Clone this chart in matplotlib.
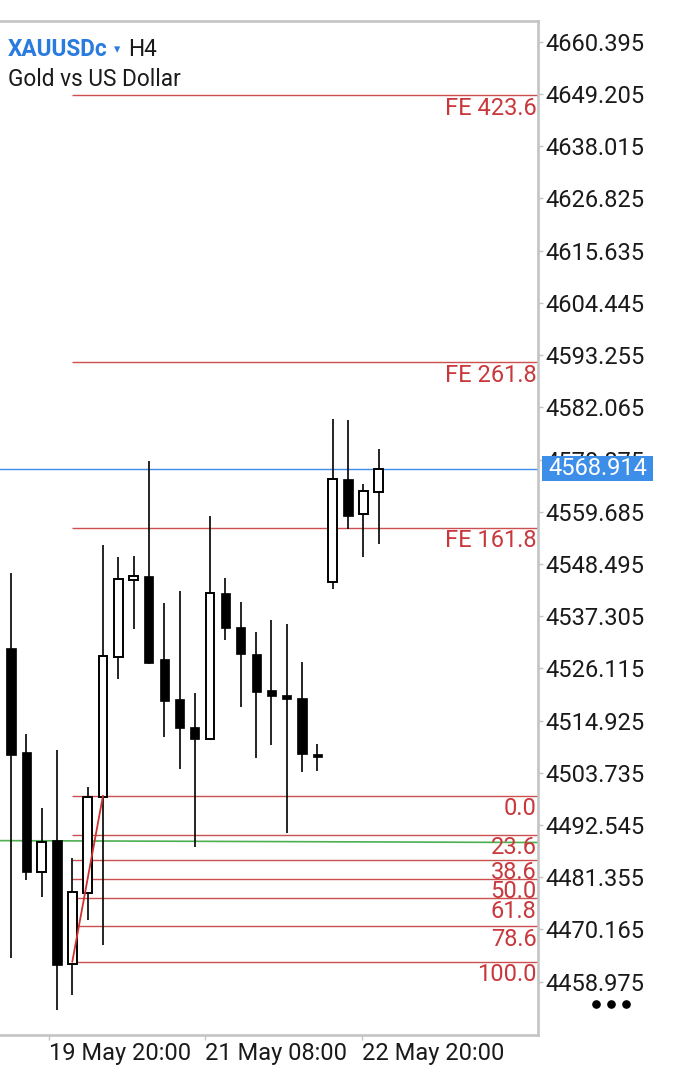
import matplotlib
matplotlib.use('Agg')
import matplotlib.pyplot as plt
from matplotlib.patches import Rectangle
from matplotlib.lines import Line2D
import matplotlib.transforms as mtransforms

plt.rcParams['font.family'] = ['Roboto', 'DejaVu Sans']

# H4 candles, XAUUSDc
opens = [4530.39, 4508.13, 4482.45, 4489.30, 4462.76, 4477.96, 4498.50, 4528.46, 4545.15,
         4546.01, 4528.03, 4519.47, 4513.48, 4510.91, 4542.37, 4534.88, 4529.10, 4521.40,
         4520.33, 4519.69, 4507.70, 4544.72, 4566.77, 4559.28, 4563.99]
highs = [4546.65, 4511.98, 4496.15, 4508.56, 4485.45, 4500.64, 4552.64, 4550.07, 4550.29,
         4570.62, 4540.02, 4542.59, 4520.76, 4558.85, 4545.58, 4540.44, 4533.81, 4536.38,
         4535.52, 4527.39, 4509.84, 4579.61, 4579.40, 4565.70, 4573.19]
lows = [4464.05, 4480.74, 4477.10, 4452.92, 4456.13, 4472.18, 4466.83, 4523.75, 4534.45,
        4526.96, 4511.34, 4504.49, 4487.80, 4510.91, 4532.10, 4517.76, 4506.85, 4509.63,
        4490.80, 4503.85, 4504.07, 4543.23, 4556.07, 4550.07, 4552.86]
closes = [4507.49, 4482.45, 4488.87, 4462.55, 4478.17, 4498.50, 4528.67, 4545.36, 4546.01,
          4527.18, 4519.05, 4513.27, 4510.91, 4542.37, 4534.67, 4529.10, 4520.97, 4520.11,
          4519.47, 4507.70, 4507.49, 4566.77, 4558.85, 4564.20, 4568.91]

# fibo retracement (anchored on candles 4 -> 6)
fib_low = 4463.26
fib_high = 4498.78
fib_levels = [0.0, 23.6, 38.6, 50.0, 61.8, 78.6, 100.0]
fib_start, fib_end = 4, 6

# fibo expansion lines
fe_labels = ['FE 161.8', 'FE 261.8', 'FE 423.6']
fe_prices = [4556.22, 4591.68, 4648.94]

bid_price = 4568.914
green_line = [4489.2, 4488.8]

ytick_labels = ['4458.975', '4470.165', '4481.355', '4492.545', '4503.735', '4514.925',
                '4526.115', '4537.305', '4548.495', '4559.685', '4570.875', '4582.065',
                '4593.255', '4604.445', '4615.635', '4626.825', '4638.015', '4649.205',
                '4660.395']
xtick_labels = ['19 May 20:00', '21 May 08:00', '22 May 20:00']
xtick_pos = [2.48, 12.66, 22.91]

RED = '#c8383c'
RED_LINE = '#cc5050'
GRAY = '#c4c4c4'
FS = 17
W, H = 673, 1083

fig = plt.figure(figsize=(W / 100, H / 100), dpi=100)
ax = fig.add_axes([0, 48 / H, 538.3 / W, (1035 - 20.5) / H])
ax.set_xlim(-0.72, 34.42)
ax.set_ylim(4447.55, 4664.95)

# candles
n = len(opens)
xs = list(range(n))
ax.vlines(xs, lows, highs, color='black', lw=1.2, zorder=3)
for i in range(n):
    o, c = opens[i], closes[i]
    bottom = min(o, c)
    height = max(abs(c - o), 0.7)
    if c > o:
        ax.bar(i, height, bottom=bottom, width=0.56, facecolor='white',
               edgecolor='black', linewidth=1.4, zorder=4)
    else:
        ax.bar(i, height, bottom=bottom - (0.35 if abs(c - o) < 0.7 else 0), width=0.6,
               facecolor='black', edgecolor='black', linewidth=0.5, zorder=4)

# fibo retracement levels
ax_right = ax.get_xlim()[1]
lbl_tr = mtransforms.blended_transform_factory(ax.transAxes, ax.transData)
for lv in fib_levels:
    p = fib_high - (fib_high - fib_low) * lv / 100.0
    ax.hlines(p, fib_start, ax_right, color=RED_LINE, lw=1.0, zorder=2)
    ax.text(0.997, p - 0.3, f'{lv:.1f}', transform=lbl_tr, ha='right', va='top',
            color=RED, fontsize=FS, zorder=6)
ax.plot([fib_start, fib_end], [fib_low, fib_high], color='#d03030', lw=1.3, zorder=5)

# fibo expansion levels
for lbl, p in zip(fe_labels, fe_prices):
    ax.hlines(p, fib_start, ax_right, color=RED_LINE, lw=1.0, zorder=2)
    ax.text(0.997, p - 0.3, lbl, transform=lbl_tr, ha='right', va='top',
            color=RED, fontsize=FS, zorder=6)

# green trend line and bid line
ax.plot(ax.get_xlim(), green_line, color='#4caf50', lw=1.2, zorder=2)
ax.axhline(bid_price, color='#3d8ee8', lw=1.0, zorder=2)

# bid label box on the price scale (hides part of the 4570.875 label, as in the app)
ax.add_patch(Rectangle((1.0069, bid_price - 2.68), 0.2062, 5.36, transform=lbl_tr,
                       facecolor='#3d8ee8', edgecolor='none', clip_on=False, zorder=7))
ax.text(1.019, bid_price, f'{bid_price:.3f}', transform=lbl_tr, ha='left', va='center',
        color='white', fontsize=FS, clip_on=False, zorder=8)

# axes styling
ax.spines['left'].set_visible(False)
for side in ['top', 'right', 'bottom']:
    ax.spines[side].set_color(GRAY)
    ax.spines[side].set_linewidth(1.9)

ax.yaxis.tick_right()
ax.set_yticks([float(t) for t in ytick_labels])
ax.set_yticklabels(ytick_labels)
ax.tick_params(axis='y', length=3.6, width=1, color=GRAY, pad=1.2, labelsize=FS,
               labelcolor='#1a1a1a')
ax.set_xticks(xtick_pos)
ax.set_xticklabels(xtick_labels)
ax.tick_params(axis='x', length=3.6, width=1, color=GRAY, pad=1.2, labelsize=FS,
               labelcolor='#1a1a1a')
for t in ax.get_xticklabels():
    t.set_ha('left')

# header
fig.text(8 / W, 1 - 56 / H, 'XAUUSDc', color='#2a7be0', fontsize=16.3, fontweight='bold',
         va='baseline', ha='left')
fig.text(114 / W, 1 - 53 / H, '▾', color='#2a7be0', fontsize=9, va='baseline', ha='left')
fig.text(128 / W, 1 - 56 / H, 'H4', color='#1a1a1a', fontsize=16.3, va='baseline', ha='left')
fig.text(8 / W, 1 - 85.5 / H, 'Gold vs US Dollar', color='#1a1a1a', fontsize=16.3,
         va='baseline', ha='left')

# menu dots bottom-right
fig.add_artist(Line2D([596 / W, 611 / W, 626 / W], [1 - 1004 / H] * 3, marker='o',
                      ms=5.2, ls='none', color='black'))

fig.savefig('out.png', dpi=100, facecolor='white')
